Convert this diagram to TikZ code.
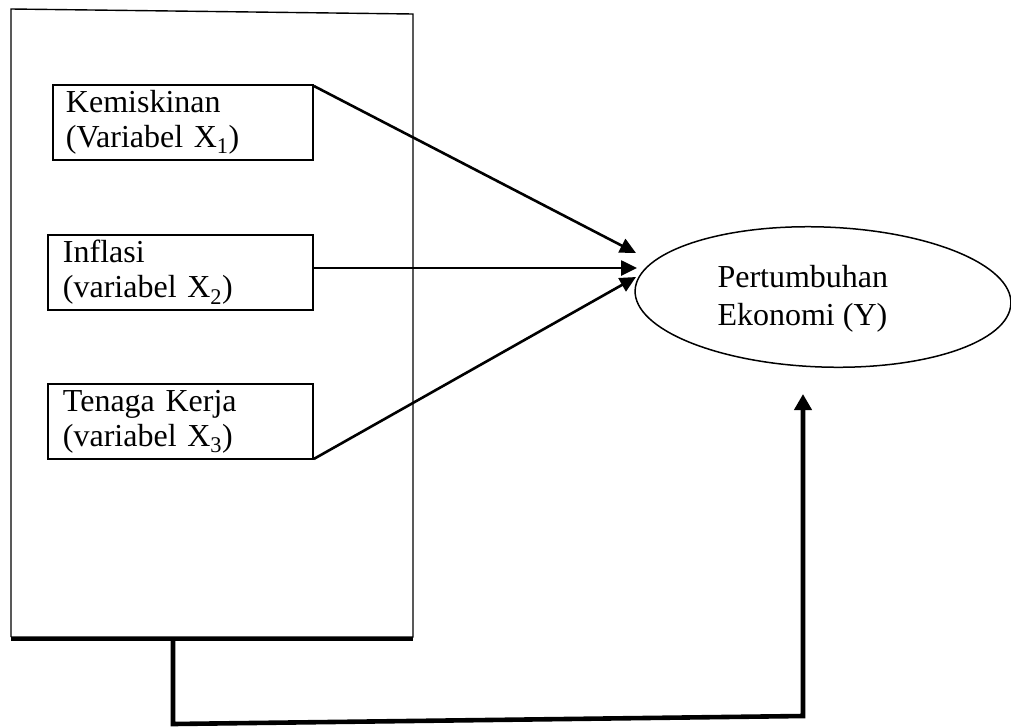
\documentclass[tikz,border=0pt]{standalone}
\usepackage{fontspec}
\setmainfont{Liberation Serif}
\usetikzlibrary{arrows.meta,shapes.geometric,calc}
\begin{document}
\begin{tikzpicture}[x=1pt,y=-1pt,
  txt/.style={font=\fontsize{32pt}{35pt}\selectfont},
  varbox/.style={txt,draw,line width=1.9pt,align=left,anchor=north west,
    minimum height=75pt,inner ysep=0pt},
  frameline/.style={line width=1.4pt,line join=miter},
  arr/.style={line width=2.6pt,-{Triangle[length=16pt,width=15pt]}},
  conn/.style={line width=4.6pt,line join=miter,-{Triangle[length=16pt,width=17pt]}}]
\useasboundingbox (0,0) rectangle (1011,726);
% outer frame
\coordinate (fa) at (11,9);
\coordinate (fb) at (413,14);
\coordinate (fc) at (413,637);
\coordinate (fd) at (11,637);
\draw[frameline] (fd) -- (fa) -- (fb) -- (fc) -- (fd);
\coordinate (ba) at (11,639);
\coordinate (bb) at (413,639);
\draw[line width=4pt] (ba) -- (bb);
% variable boxes
\node[varbox,text width=234pt,inner xsep=13pt] (x1) at (52,84)
  {Kemiskinan\\(Variabel X\textsubscript{1})};
\node[varbox,text width=235pt,inner xsep=15pt] (x2) at (47,234)
  {Inflasi\\(variabel X\textsubscript{2})};
\node[varbox,text width=235pt,inner xsep=15pt] (x3) at (47,383)
  {Tenaga Kerja\\(variabel X\textsubscript{3})};
% dependent variable
\node[draw,ellipse,line width=1.5pt,minimum width=376pt,minimum height=140pt,
  inner sep=0pt,rotate=-2] (Y) at (823,297) {};
\node[font=\fontsize{32pt}{38pt}\selectfont,align=left,anchor=base west] (ylab) at (714,325)
  {Pertumbuhan\\Ekonomi (Y)};
\coordinate (t1) at ($(Y.center)+(-187,-44)$);
\coordinate (t2) at ($(Y.center)+(-186,-29)$);
\coordinate (t3) at ($(Y.center)+(-187,-20)$);
\coordinate (t4) at ($(Y.center)+(-20,97)$);
\draw[arr] ($(x1.north east)+(0,2)$) -- (t1);
\draw[arr] (x2.east |- t2) -- (t2);
\draw[arr] ($(x3.south east)+(0,-1)$) -- (t3);
% bottom connector
\coordinate (c0) at (173,639);
\coordinate (c1) at (173,724);
\coordinate (c2) at (803,716);
\draw[conn] (c0) -- (c1) -- (c2) -- (t4);
\end{tikzpicture}
\end{document}
